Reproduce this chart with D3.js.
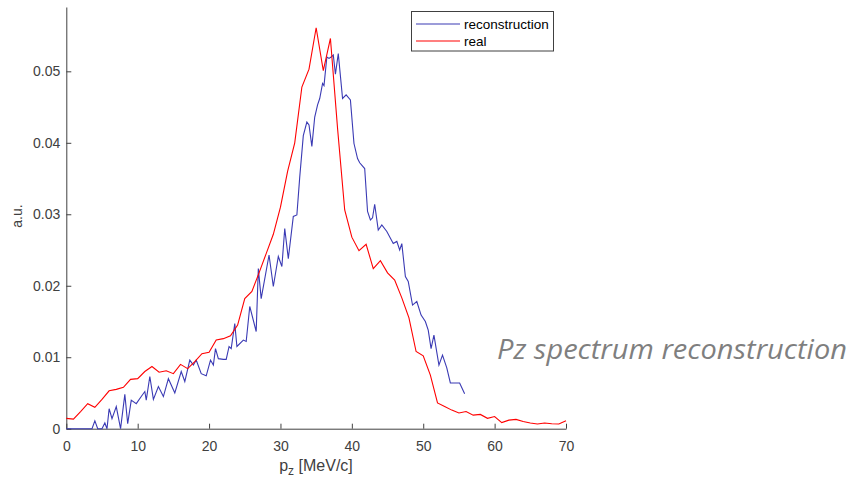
<!DOCTYPE html>
<html>
<head>
<meta charset="utf-8">
<script src="https://cdn.jsdelivr.net/npm/d3@7"></script>
<style>
  body { margin: 0; background: #fff; }
  svg { display: block; }
  .axis text { font-family: "Liberation Sans", Arial, sans-serif; font-size: 14px; fill: #404040; }
  .axis path, .axis line { stroke: #404040; stroke-width: 1; }
</style>
</head>
<body>
<div id="chart"></div>
<script>
// x ticks / y ticks
const xTicks = [0, 10, 20, 30, 40, 50, 60, 70];
const yTicks = [0, 0.01, 0.02, 0.03, 0.04, 0.05];

// "real" spectrum, one value per MeV/c from 0 to 70
const realPz = d3.range(0, 71);
const realVal = [
  0.00145, 0.00135, 0.0024, 0.0035, 0.0030, 0.0041, 0.0053, 0.0055, 0.0058, 0.0069,
  0.0070, 0.0080, 0.0087, 0.0079, 0.0081, 0.0077, 0.0090, 0.0084, 0.0094, 0.0105,
  0.0107, 0.0124, 0.0126, 0.0130, 0.0145, 0.0182, 0.0192, 0.0218, 0.0245, 0.0272,
  0.0310, 0.0360, 0.0400, 0.0478, 0.0503, 0.0561, 0.0501, 0.0546, 0.0420, 0.0306,
  0.0268, 0.0249, 0.0258, 0.0224, 0.0235, 0.0218, 0.0208, 0.0183, 0.0155, 0.0108,
  0.0102, 0.0075, 0.0036, 0.0031, 0.0026, 0.0022, 0.0024, 0.0019, 0.0020, 0.00145,
  0.0017, 0.00085, 0.0012, 0.0013, 0.0010, 0.0008, 0.00065, 0.0008, 0.0007, 0.00065,
  0.0011
];

// reconstruction (pz, value)
const recoPz = [
  0, 3.6, 4.0, 4.4, 5.0, 5.4, 5.7, 6.0, 6.4, 7.0, 7.6, 8.2, 8.6, 9.1, 9.8,
  10.5, 11.0, 11.2, 11.7, 12.2, 12.9, 13.6, 14.3, 15.2, 16.1, 16.6, 17.3, 17.8, 18.2, 18.9,
  19.6, 20.2, 20.6, 20.9, 21.3, 22.0, 22.4, 22.8, 23.1, 23.6, 23.9, 24.8, 25.2, 25.7, 26.6,
  26.9, 27.3, 28.4, 29.0, 29.7, 30.2, 30.6, 31.1, 31.8, 32.3, 32.7, 33.2, 33.7, 34.0, 34.4,
  34.8, 35.2, 35.5, 35.9, 36.1, 36.5, 36.8, 37.1, 37.4, 37.7, 38.1, 38.7, 39.2, 39.8, 40.3,
  40.8, 41.1, 41.8, 42.2, 42.6, 42.9, 43.2, 43.7, 44.2, 44.9, 45.8, 46.3, 46.7, 47.0, 47.5,
  47.9, 48.5, 49.1, 49.7, 50.3, 50.7, 51.1, 51.5, 52.2, 52.7, 53.3, 53.8, 54.4, 55.1, 55.8
];
const recoVal = [
  0, 0, 0.0011, 0, 0, 0.0008, 0, 0.0028, 0.0014, 0.0031, 0, 0.0048, 0.0007, 0.0040, 0.0035,
  0.0045, 0.0052, 0.0040, 0.0073, 0.0041, 0.0059, 0.0045, 0.0070, 0.0050, 0.0080, 0.0066, 0.0096, 0.0089, 0.0096, 0.0077,
  0.0074, 0.0096, 0.0089, 0.0112, 0.0098, 0.0097, 0.0097, 0.0115, 0.0112, 0.0147, 0.0115, 0.0124, 0.0122, 0.0171, 0.0136,
  0.0224, 0.0182, 0.0243, 0.0199, 0.0241, 0.0227, 0.0280, 0.0238, 0.0297, 0.0299, 0.0352, 0.0410, 0.0429, 0.0425, 0.0395,
  0.0436, 0.0453, 0.0462, 0.0483, 0.0480, 0.0520, 0.0518, 0.0520, 0.0523, 0.0496, 0.0525, 0.0462, 0.0467, 0.0460, 0.0399,
  0.0378, 0.0372, 0.0364, 0.0304, 0.0292, 0.0295, 0.0314, 0.0278, 0.0285, 0.0276, 0.0259, 0.0262, 0.0250, 0.0259, 0.0213,
  0.0206, 0.0173, 0.0178, 0.0159, 0.0150, 0.0138, 0.0112, 0.0131, 0.0089, 0.0103, 0.0085, 0.0064, 0.0064, 0.0064, 0.0049
];

const seriesNames = ["reconstruction", "real"];
const seriesColors = ["#3a3ab4", "#ff0000"];

const width = 852, height = 481;

const svg = d3.select("#chart").append("svg")
  .attr("width", width)
  .attr("height", height);

const x = d3.scaleLinear().domain([0, 70]).range([66.3, 566]);
const y = d3.scaleLinear().domain([0, 0.059]).range([428.7, 7]);

// axes, ticks pointing inward
svg.append("g")
  .attr("class", "axis")
  .attr("transform", "translate(0," + y(0) + ")")
  .call(d3.axisBottom(x).tickValues(xTicks).tickSizeInner(-5).tickSizeOuter(0).tickPadding(12));

svg.append("g")
  .attr("class", "axis")
  .attr("transform", "translate(" + x(0) + ",0)")
  .call(d3.axisLeft(y).tickValues(yTicks).tickSizeInner(-5).tickSizeOuter(0).tickPadding(6)
    .tickFormat(function(d) { return d === 0 ? "0" : d3.format(".2f")(d); }));

const line = d3.line()
  .x(function(d) { return x(d[0]); })
  .y(function(d) { return y(d[1]); });

const recoData = recoPz.map(function(p, i) { return [p, recoVal[i]]; });
const realData = realPz.map(function(p, i) { return [p, realVal[i]]; });

svg.append("path")
  .datum(recoData)
  .attr("d", line)
  .attr("fill", "none")
  .attr("stroke", seriesColors[0])
  .attr("stroke-width", 1.1);

svg.append("path")
  .datum(realData)
  .attr("d", line)
  .attr("fill", "none")
  .attr("stroke", seriesColors[1])
  .attr("stroke-width", 1.1);

// axis labels
svg.append("text")
  .attr("transform", "translate(22,216) rotate(-90)")
  .attr("text-anchor", "middle")
  .style("font-family", "Liberation Sans, Arial, sans-serif")
  .style("font-size", "14px")
  .style("fill", "#404040")
  .text("a.u.");

const xl = svg.append("text")
  .attr("x", 316)
  .attr("y", 471)
  .attr("text-anchor", "middle")
  .style("font-family", "Liberation Sans, Arial, sans-serif")
  .style("font-size", "16px")
  .style("fill", "#404040");
xl.append("tspan").text("p");
xl.append("tspan").attr("dy", 4).style("font-size", "12px").text("z");
xl.append("tspan").attr("dy", -4).text(" [MeV/c]");

// legend
const legend = svg.append("g");
legend.append("rect")
  .attr("x", 411.5).attr("y", 11.5)
  .attr("width", 142).attr("height", 39.5)
  .attr("fill", "#fff")
  .attr("stroke", "#404040")
  .attr("stroke-width", 1);

seriesNames.forEach(function(name, i) {
  const ly = 24 + i * 17;
  legend.append("line")
    .attr("x1", 416).attr("x2", 460)
    .attr("y1", ly).attr("y2", ly)
    .attr("stroke", seriesColors[i])
    .attr("stroke-width", 1.1);
  legend.append("text")
    .attr("x", 464).attr("y", ly + 5)
    .style("font-family", "Liberation Sans, Arial, sans-serif")
    .style("font-size", "13.5px")
    .style("fill", "#000")
    .text(name);
});

// slide caption
svg.append("text")
  .attr("x", 497)
  .attr("y", 359)
  .attr("textLength", 350)
  .attr("lengthAdjust", "spacingAndGlyphs")
  .style("font-family", "Open Sans, sans-serif")
  .style("font-style", "italic")
  .style("font-size", "28px")
  .style("fill", "#7f7f7f")
  .text("Pz spectrum reconstruction");
</script>
</body>
</html>
